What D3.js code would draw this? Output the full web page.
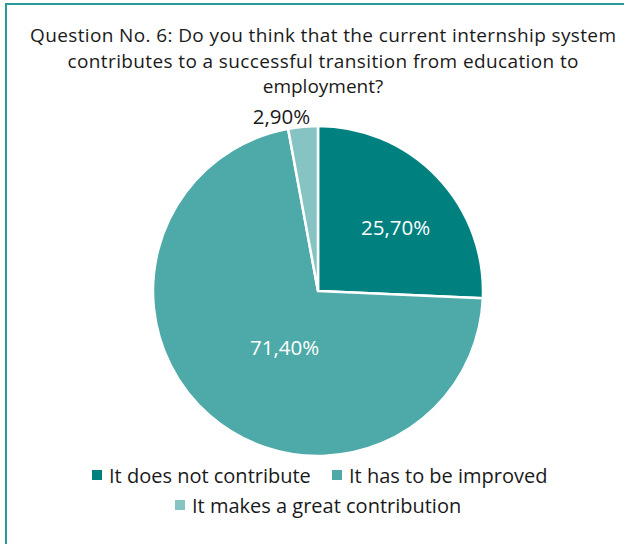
<!DOCTYPE html>
<html>
<head>
<meta charset="utf-8">
<script src="https://cdn.jsdelivr.net/npm/d3@7"></script>
<style>
  html, body { margin: 0; padding: 0; background: #fff; }
  svg { display: block; font-family: "Open Sans", "Noto Sans", sans-serif; }
</style>
</head>
<body>
<svg id="chart" width="624" height="544"></svg>
<script>
// Survey answers and their shares (percent)
const categories = ["It does not contribute", "It has to be improved", "It makes a great contribution"];
const values = [25.7, 71.4, 2.9];
const colors = ["#00817f", "#4eaaa8", "#85c4c2"];
const titleLines = [
  "Question No. 6: Do you think that the current internship system",
  "contributes to a successful transition from education to",
  "employment?"
];

const svg = d3.select("#chart");
const W = 624, H = 544;

// frame
svg.append("rect").attr("x", 6).attr("y", 4).attr("width", W + 20).attr("height", H + 20)
  .attr("fill", "none").attr("stroke", "#2a9a98").attr("stroke-width", 2);

// title
const titleWidths = [586, 511, null];
svg.append("g").selectAll("text").data(titleLines).join("text")
  .attr("x", 323).attr("y", (d, i) => 42 + i * 25.5)
  .attr("text-anchor", "middle").attr("font-size", 19).attr("fill", "#1a1a1a")
  .each(function (d, i) {
    if (titleWidths[i]) d3.select(this).attr("textLength", titleWidths[i]).attr("lengthAdjust", "spacing");
  })
  .text(d => d);

// pie
const cx = 318, cy = 291, r = 165;
const pie = d3.pie().sort(null).value(d => d)(values);
const arc = d3.arc().innerRadius(0).outerRadius(r);
const g = svg.append("g").attr("transform", `translate(${cx},${cy})`);
g.selectAll("path").data(pie).join("path")
  .attr("d", arc).attr("fill", (d, i) => colors[i])
  .attr("stroke", "#fff").attr("stroke-width", 2.5).attr("stroke-linejoin", "round");

// value labels: radius factor and small nudge per slice
const fmt = v => v.toFixed(2).replace(".", ",") + "%";
const labelRadius = [0.6, 0.4, 1.1];
const labelNudge = [[6, 5], [10, 7], [-20, 7]];
g.selectAll("text").data(pie).join("text")
  .attr("transform", (d, i) => {
    const rr = r * labelRadius[i];
    const c = d3.arc().innerRadius(rr).outerRadius(rr).centroid(d);
    return `translate(${c[0] + labelNudge[i][0]},${c[1] + labelNudge[i][1]})`;
  })
  .attr("text-anchor", "middle").attr("dy", "0.35em")
  .attr("font-size", 20.5)
  .attr("fill", (d, i) => i === 2 ? "#1a1a1a" : "#fff")
  .text(d => fmt(d.data));

// legend
const legendPos = [
  { x: 92, y: 476 },
  { x: 332, y: 476 },
  { x: 175, y: 506 }
];
const lg = svg.append("g").selectAll("g").data(categories).join("g")
  .attr("transform", (d, i) => `translate(${legendPos[i].x},${legendPos[i].y})`);
lg.append("rect").attr("x", 0).attr("y", -6).attr("width", 10).attr("height", 10)
  .attr("fill", (d, i) => colors[i]);
lg.append("text").attr("x", 17).attr("y", 0).attr("dy", "0.35em")
  .attr("font-size", 20).attr("fill", "#1a1a1a").text(d => d);
</script>
</body>
</html>
